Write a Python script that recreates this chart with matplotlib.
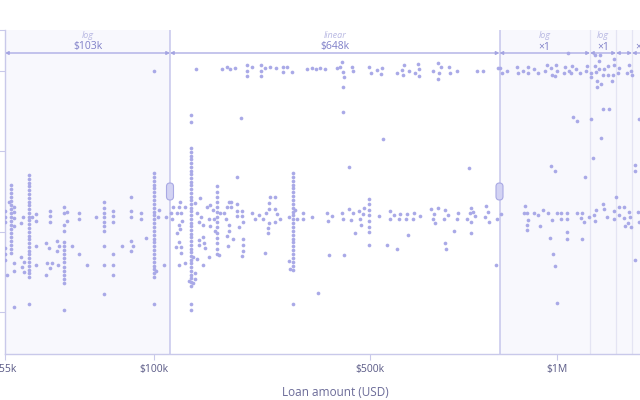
import numpy as np
import matplotlib
matplotlib.use("Agg")
import matplotlib.pyplot as plt
from matplotlib.patches import FancyBboxPatch
from matplotlib.transforms import IdentityTransform

plt.rcParams['font.family'] = ['Open Sans', 'DejaVu Sans']

# --- data: loan amount in $k, score (arbitrary units) ---
stack_k = [55, 56.3, 57.0, 60.6, 69.7, 81.9, 100, 148, 200, 349, 499]
stack_y = [
    [101, 95, 90, 64, 58, 52],
    [127, 123, 119, 115, 111, 107, 103, 99, 95, 91, 87, 83, 79, 75, 71, 67, 63, 59],
    [105, 100, 94, 86, 49, 41, 5],
    [137, 133, 129, 126, 122, 118, 114, 110, 107, 103, 99, 95, 92, 88, 84, 80, 76, 73,
     69, 65, 61, 58, 54, 50, 46, 42, 39, 35, 8],
    [105, 99, 87, 81, 70, 66, 62, 58, 54, 50, 45, 41, 37, 33, 29, 2],
    [110, 104, 99, 95, 90, 86, 81, 66, 47, 18],
    [241, 139, 135, 131, 127, 124, 120, 116, 112, 108, 104, 100, 97, 93, 89, 85, 81, 77,
     73, 70, 66, 62, 58, 54, 50, 46, 43, 39, 35, 8],
    [197, 190, 164, 160, 156, 153, 149, 145, 141, 138, 134, 130, 127, 123, 119, 115, 112,
     108, 104, 101, 97, 93, 89, 86, 82, 78, 75, 71, 67, 63, 60, 56, 52, 49, 45, 41, 37,
     34, 30, 26, 8, 2],
    [126, 120, 115, 110, 105, 100, 95, 90, 85, 79, 74, 69, 63, 58],
    [139, 135, 131, 127, 124, 120, 116, 112, 108, 104, 100, 97, 93, 89, 85, 81, 77, 73,
     70, 66, 62, 58, 54, 50, 46, 42, 8],
    [113, 108, 102, 97, 91, 85, 80, 67],
]

top_band = [
    (158, 243), (209, 243), (219, 245), (225, 243), (235, 244), (259, 247), (259, 241),
    (259, 236), (269, 245), (286, 247), (286, 241), (286, 236), (294, 244), (304, 245),
    (316, 244), (330, 245), (330, 240), (338, 245), (347, 240), (377, 243), (387, 244),
    (395, 243), (403, 244), (412, 243), (436, 244), (442, 245), (446, 250), (448, 240),
    (450, 235), (448, 225), (466, 245), (468, 241), (499, 245), (503, 239), (515, 242),
    (523, 238), (525, 244), (554, 239), (564, 242), (566, 237), (568, 247), (578, 241),
    (590, 239), (596, 248), (598, 243), (598, 236), (625, 241), (635, 249), (641, 245),
    (637, 239), (635, 233), (657, 245), (659, 239), (672, 241), (712, 241), (724, 241),
    (753, 244), (758, 244), (765, 239), (784, 241), (822, 245), (826, 239), (848, 241),
    (869, 245), (869, 239), (894, 243), (912, 239), (953, 247), (943, 241), (972, 244),
    (977, 237), (995, 247), (1000, 241), (991, 236), (1040, 245), (1035, 239), (1060, 241),
    (1076, 246), (1071, 239), (1097, 243), (1118, 239), (1157, 246), (1151, 241),
    (1055, 259), (1179, 239), (1179, 235), (1197, 246), (1202, 240), (1216, 243),
    (1216, 251), (1207, 231), (1207, 225), (1225, 228), (1235, 237), (1240, 243),
    (1259, 237), (1259, 246), (1278, 231), (1283, 237), (1197, 257), (1221, 257),
    (1292, 253), (1292, 247), (1312, 239), (1318, 244), (1368, 239), (1380, 247),
    (1393, 241), (1400, 237),
]

mid_band = [
    (58.7, 89), (59.1, 95), (58.7, 55), (58.9, 45), (59.4, 50), (59.4, 40), (55.4, 37),
    (56, 110), (61.2, 95), (62.2, 98), (62.2, 91), (62.2, 66), (62.2, 47), (64.9, 69),
    (65.7, 64), (65.1, 49), (65.9, 44), (64.9, 37), (66.4, 49), (65.9, 101), (65.9, 96),
    (65.9, 90), (67.8, 71), (68.3, 66), (67.8, 61), (68.0, 47), (70.5, 100), (70.5, 91),
    (71.9, 66), (74.1, 99), (74.1, 93), (74.1, 58), (76.5, 47), (79.3, 95), (84.8, 101),
    (84.8, 96), (84.8, 90), (84.8, 58), (84.8, 47), (84.8, 37), (88.0, 66), (91.3, 115),
    (91.3, 101), (91.3, 95), (91.3, 71), (92, 66), (91.3, 61), (94.9, 99), (94.9, 93),
    (96.9, 74), (102.2, 102), (101.6, 95), (105, 95), (104.3, 47), (100.9, 41),
    (109, 99), (111, 93), (113, 105), (125, 105), (127, 110), (137, 105), (121, 99),
    (129, 99), (131, 91), (125, 87), (127, 83), (121, 79), (119, 65), (129, 65), (129, 59),
    (125, 70), (125, 47), (137, 49), (156, 109), (156, 39), (156, 33), (152, 29), (144, 31),
    (152, 55), (160, 53), (166, 114), (160, 99), (168, 95), (164, 90), (172, 87), (172, 75),
    (164, 72), (164, 67), (174, 69), (176, 64), (172, 47), (184, 55), (180, 105), (186, 107),
    (192, 102), (184, 93), (194, 93), (186, 86), (196, 81), (204, 57), (206, 99), (213, 99),
    (217, 93), (223, 110), (227, 110), (219, 105), (227, 105), (223, 87), (223, 81),
    (219, 76), (221, 66), (231, 73), (239, 108), (239, 101), (239, 96), (243, 85),
    (249, 101), (249, 96), (251, 90), (251, 73), (251, 67), (251, 61), (249, 56), (269, 99),
    (274, 93), (282, 97), (290, 93), (296, 99), (302, 109), (304, 115), (314, 115),
    (302, 103), (302, 89), (300, 84), (300, 79), (314, 103), (318, 98), (314, 90), (324, 93),
    (294, 59), (341, 51), (343, 43), (341, 95), (353, 102), (357, 93), (369, 99), (369, 93),
    (387, 95), (416, 99), (418, 91), (426, 96), (446, 99), (448, 93), (460, 103), (464, 92),
    (471, 79), (479, 101), (468, 99), (420, 57), (450, 57), (489, 104), (487, 98), (481, 93),
    (483, 87), (519, 96), (540, 101), (548, 97), (540, 93), (560, 98), (558, 93), (574, 98),
    (572, 93), (588, 99), (586, 93), (600, 96), (621, 103), (635, 104), (627, 98), (625, 93),
    (629, 89), (649, 102), (655, 97), (647, 93), (674, 99), (672, 93), (700, 104), (698, 99),
    (692, 93), (700, 90), (708, 96), (704, 100), (730, 106), (733, 100), (728, 95), (735, 90),
    (751, 93), (534, 67), (554, 63), (576, 77), (649, 69), (651, 63), (666, 81), (700, 79),
    (761, 98), (856, 106), (865, 99), (852, 99), (869, 92), (865, 87), (865, 82), (894, 99),
    (912, 97), (934, 102), (957, 99), (977, 92), (921, 86), (967, 74), (1000, 99), (981, 58),
    (991, 46), (1020, 99), (1020, 93), (1050, 99), (1050, 93), (1102, 99), (1129, 99),
    (1124, 94), (1140, 90), (1168, 95), (1050, 80), (1050, 73), (1129, 73), (1193, 97),
    (1202, 102), (1197, 91), (1235, 108), (1240, 103), (1254, 95), (1292, 101), (1292, 93),
    (1318, 105), (1318, 97), (1349, 105), (1349, 94), (1355, 86), (1380, 100), (1387, 95),
    (1374, 89), (1393, 85), (1435, 100), (1441, 90),
]

outliers = [
    (247, 194), (448, 200), (527, 173), (460, 145), (696, 144), (239, 135), (399, 19),
    (749, 47), (1081, 195), (1102, 191), (972, 146), (991, 141), (1146, 135), (1179, 193),
    (1235, 203), (1264, 203), (1225, 174), (1188, 154), (1441, 193), (1417, 147),
    (1417, 141), (1417, 52), (1300, 115), (1000, 9),
]

x_ticks = [55e3, 100e3, 500e3, 1e6]
x_ticklabels = ['$55k', '$100k', '$500k', '$1M']

# piecewise axis: segment edges (USD) and their pixel positions
seg_v = [55e3, 106.8e3, 756e3, 1174e3, 1300e3, 1400e3, 1506e3, 1844e3]
seg_u = [5, 170, 499.5, 590, 616, 632, 650, 700]
seg_kind = ['log', 'linear', 'log', 'log', 'log', 'log', 'log']
seg_label = ['log', 'linear', 'log', 'log', '', '', '']
seg_span = ['$103k', '$648k', '×1', '×1', '', '×1', '']


def _t(v, i):
    a, b = seg_v[i], seg_v[i + 1]
    if seg_kind[i] == 'log':
        return (np.log(v) - np.log(a)) / (np.log(b) - np.log(a))
    return (v - a) / (b - a)


def _tinv(t, i):
    a, b = seg_v[i], seg_v[i + 1]
    if seg_kind[i] == 'log':
        return np.exp(np.log(a) + t * (np.log(b) - np.log(a)))
    return a + t * (b - a)


def fwd(v):
    v = np.clip(np.asarray(v, dtype=float), 1.0, None)
    out = np.zeros_like(v)
    n = len(seg_kind)
    for i in range(n):
        lo = -np.inf if i == 0 else seg_v[i]
        hi = np.inf if i == n - 1 else seg_v[i + 1]
        m = (v >= lo) & (v < hi)
        out[m] = seg_u[i] + _t(v[m], i) * (seg_u[i + 1] - seg_u[i])
    return out


def inv(u):
    u = np.asarray(u, dtype=float)
    out = np.zeros_like(u)
    n = len(seg_kind)
    for i in range(n):
        lo = -np.inf if i == 0 else seg_u[i]
        hi = np.inf if i == n - 1 else seg_u[i + 1]
        m = (u >= lo) & (u < hi)
        t = (u[m] - seg_u[i]) / (seg_u[i + 1] - seg_u[i])
        out[m] = _tinv(t, i)
    return out


W, H = 640, 400
fig = plt.figure(figsize=(6.4, 4.0), dpi=100)
ax = fig.add_axes([5 / W, 46 / H, 695 / W, 324 / H])
ax.set_xscale('function', functions=(fwd, inv))
ax.set_xlim(seg_v[0], seg_v[-1])
ax.set_ylim(-42, 282)

line_c = '#c9c9ea'
dot_c = '#a9a9e7'

# segment shading and borders
for i, kind in enumerate(seg_kind):
    if kind == 'log':
        ax.axvspan(seg_v[i], seg_v[i + 1], color='#f8f8fd', zorder=0, lw=0)
for j, v in enumerate(seg_v[1:-1]):
    strong = j < 2
    ax.axvline(v, color='#c6c6ec' if strong else '#e4e4f3', lw=1.1 if strong else 0.9, zorder=1)

# span arrows and labels
for i in range(len(seg_kind)):
    a, b = seg_v[i], seg_v[i + 1]
    mid = inv(np.array([(seg_u[i] + seg_u[i + 1]) / 2]))[0]
    ax.annotate('', xy=(b, 259), xytext=(a, 259),
                arrowprops=dict(arrowstyle='<|-|>', color='#a4a4e2', lw=0.9,
                                mutation_scale=5, shrinkA=0, shrinkB=0), zorder=2)
    if seg_label[i]:
        ax.text(mid, 277, seg_label[i], ha='center', va='center', fontsize=6.5,
                style='italic', color='#b9b9e3')
    if seg_span[i]:
        ax.text(mid, 265, seg_span[i], ha='center', va='center', fontsize=7.5,
                color='#7f7fc8')

# points
sx, sy = [], []
for k, ys in zip(stack_k, stack_y):
    sx += [k * 1e3] * len(ys)
    sy += ys
for group in (top_band, mid_band, outliers):
    sx += [p[0] * 1e3 for p in group]
    sy += [p[1] for p in group]
ax.scatter(sx, sy, s=7, color=dot_c, linewidths=0, zorder=3)

# axis styling
for side in ('top', 'right'):
    ax.spines[side].set_visible(False)
for side in ('left', 'bottom'):
    ax.spines[side].set_color(line_c)
    ax.spines[side].set_linewidth(1)
ax.set_yticks([0, 80, 161, 241, 282])
ax.set_yticklabels([])
ax.tick_params(axis='y', length=5, color=line_c)
ax.set_xticks(x_ticks)
ax.set_xticklabels(x_ticklabels)
ax.xaxis.set_minor_locator(matplotlib.ticker.NullLocator())
ax.tick_params(axis='x', length=4, pad=3, color=line_c, labelsize=7.5, labelcolor='#5a5a86')

fig.text(335 / W, 1 - 392 / H, 'Loan amount (USD)', ha='center', va='center',
         fontsize=8.5, color='#6b6b98')

# break markers at the two scale changes
fig.canvas.draw()
for v in seg_v[1:3]:
    px, py = ax.transData.transform((v, 120.5))
    box = FancyBboxPatch((px - 3.5, py - 8.5), 7, 17,
                         boxstyle='round,pad=0,rounding_size=3.5',
                         transform=IdentityTransform(), facecolor='#d3d3f3',
                         edgecolor='#a9a9e4', lw=0.8, zorder=5)
    fig.add_artist(box)
    for dx in (-1.5, 1.5):
        for dy in (-4.5, -1.5, 1.5, 4.5):
            fig.add_artist(plt.Line2D([px + dx], [py + dy], marker='o', markersize=0.9,
                                      color='#8585d2', transform=IdentityTransform()))

fig.savefig('out.png', dpi=100)
